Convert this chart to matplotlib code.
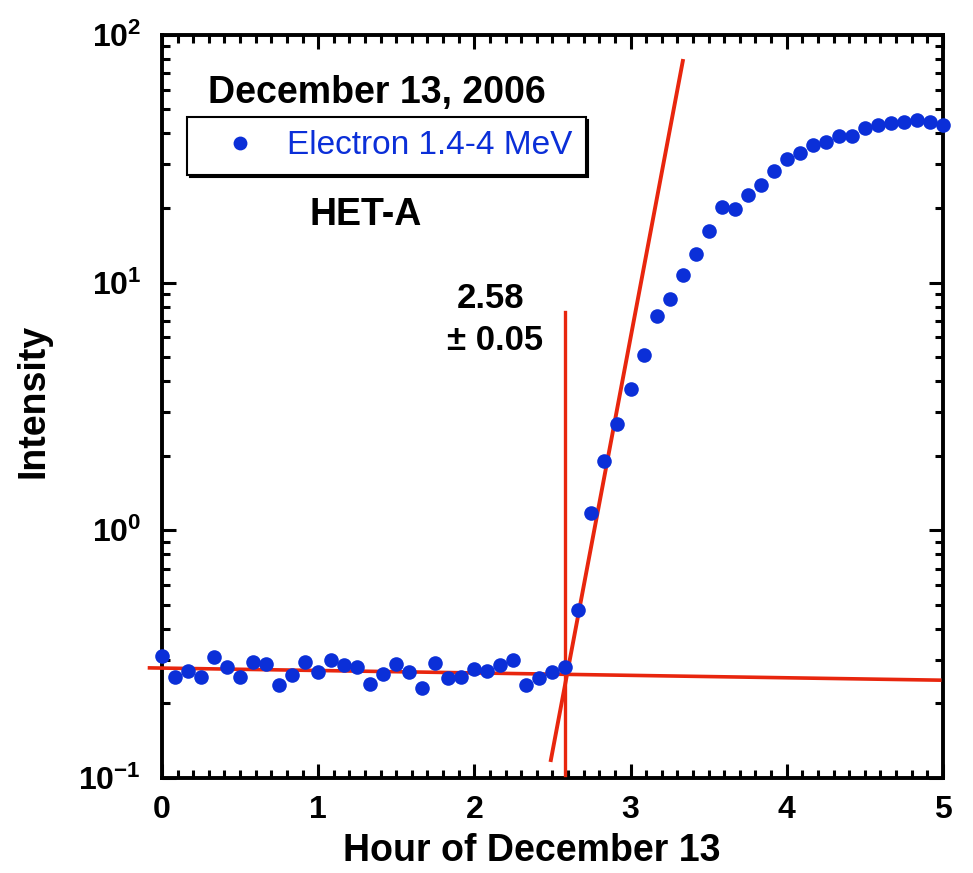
import math

import matplotlib
matplotlib.use("Agg")
from matplotlib import pyplot as plt
from matplotlib.ticker import MultipleLocator, LogLocator, FuncFormatter, NullFormatter

plt.rcParams['font.family'] = ['Liberation Sans', 'DejaVu Sans']
plt.rcParams['font.weight'] = 'bold'
plt.rcParams['mathtext.fontset'] = 'custom'
plt.rcParams['mathtext.rm'] = 'Liberation Sans:bold'
plt.rcParams['mathtext.bf'] = 'Liberation Sans:bold'
plt.rcParams['mathtext.default'] = 'bf'
plt.rcParams['axes.unicode_minus'] = False

# 5-minute samples, HET-A electrons 1.4-4 MeV
minutes = [0, 5, 10, 15, 20, 25, 30, 35, 40, 45, 50, 55,
           60, 65, 70, 75, 80, 85, 90, 95, 100, 105, 110, 115,
           120, 125, 130, 135, 140, 145, 150, 155, 160, 165, 170, 175,
           180, 185, 190, 195, 200, 205, 210, 215, 220, 225, 230, 235,
           240, 245, 250, 255, 260, 265, 270, 275, 280, 285, 290, 295, 300]
intensity = [0.311, 0.256, 0.271, 0.256, 0.307, 0.281, 0.255, 0.294, 0.288, 0.237,
             0.260, 0.294, 0.268, 0.299, 0.286, 0.281, 0.239, 0.263, 0.288, 0.268,
             0.230, 0.290, 0.252, 0.255, 0.274, 0.271, 0.286, 0.299, 0.237, 0.252,
             0.267, 0.281, 0.475, 1.17, 1.90, 2.68, 3.70, 5.11, 7.31, 8.6,
             10.7, 13.1, 16.2, 20.1, 19.9, 22.6, 24.8, 28.3, 31.5, 33.5,
             35.9, 37.1, 39.2, 39.2, 42.1, 43.4, 44.1, 44.6, 45.4, 44.6, 43.3]

# fitted lines
bg_fit_x = [-0.08, 4.98]
bg_fit_y = [0.278, 0.248]
rise_fit_x = [2.49, 3.335]
rise_fit_y = [0.118, 78.5]
onset_x = [2.58, 2.58]
onset_y = [0.103, 7.6]

hours = [m / 60 for m in minutes]

blue = '#0b2fd8'
red = '#e8260e'

fig = plt.figure(figsize=(9.73, 8.73), dpi=100)
ax = fig.add_axes([0.1665, 0.109, 0.8025, 0.851])

ax.plot(bg_fit_x, bg_fit_y, color=red, lw=2.6, clip_on=False, zorder=3)
ax.plot(rise_fit_x, rise_fit_y, color=red, lw=2.8, zorder=3)
ax.plot(onset_x, onset_y, color=red, lw=2.4, zorder=3)
ax.plot(hours, intensity, 'o', color=blue, ms=10.5, mew=0, clip_on=False,
        zorder=4, label='Electron 1.4-4 MeV')

ax.set_yscale('log')
ax.set_xlim(0, 5)
ax.set_ylim(0.1, 100)

ax.xaxis.set_major_locator(MultipleLocator(1))
ax.xaxis.set_minor_locator(MultipleLocator(0.1))
ax.yaxis.set_major_locator(LogLocator(base=10))
ax.yaxis.set_minor_locator(LogLocator(base=10, subs=range(2, 10)))
ax.yaxis.set_minor_formatter(NullFormatter())
ax.yaxis.set_major_formatter(FuncFormatter(lambda v, p: r'$\mathbf{10^{%d}}$' % round(math.log10(v))))

for s in ax.spines.values():
    s.set_linewidth(2.8)
ax.tick_params(which='both', direction='in', top=True, right=True, width=2.2)
ax.tick_params(which='major', length=10)
ax.tick_params(which='minor', length=5.5)
ax.tick_params(axis='x', which='major', labelsize=23, pad=12)
ax.tick_params(axis='y', which='major', labelsize=23, pad=15)

ax.set_xlabel('Hour of December 13', fontsize=27, fontweight='bold', x=0.473, labelpad=6)
ax.set_ylabel('Intensity', fontsize=27, fontweight='bold')
ax.yaxis.set_label_coords(-0.141, 0.507)

ax.text(0.0589, 0.9085, 'December 13, 2006', transform=ax.transAxes,
        fontsize=27, fontweight='bold', va='baseline', ha='left')
ax.text(0.1895, 0.7443, 'HET-A', transform=ax.transAxes,
        fontsize=27, fontweight='bold', va='baseline', ha='left')
ax.text(0.4213, 0.6326, '2.58', transform=ax.transAxes,
        fontsize=25, fontweight='bold', va='baseline', ha='center')
ax.text(0.4264, 0.5760, '\u00b1 0.05', transform=ax.transAxes,
        fontsize=25, fontweight='bold', va='baseline', ha='center')

leg = ax.legend(loc='upper left', bbox_to_anchor=(187 / 973, 1 - 117 / 873),
                bbox_transform=fig.transFigure, borderaxespad=0,
                prop={'size': 24, 'weight': 'normal'}, labelcolor=blue,
                fancybox=False, edgecolor='black', framealpha=1,
                borderpad=0.4, handlelength=2.4, handletextpad=0.2,
                markerscale=0.95,
                shadow={'facecolor': 'black', 'edgecolor': 'black', 'alpha': 1})
leg.get_frame().set_linewidth(1.5)

fig.savefig('out.png', dpi=100)
